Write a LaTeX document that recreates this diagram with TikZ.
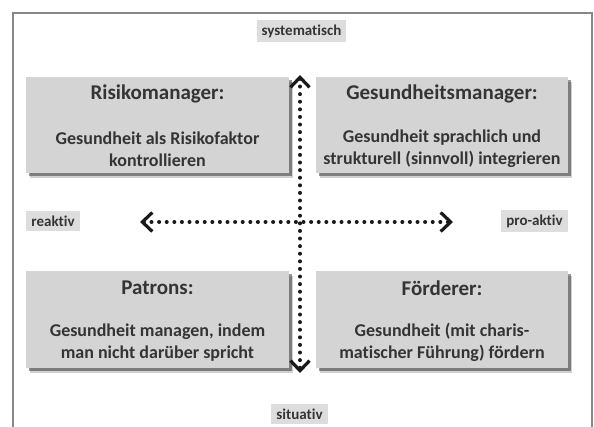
\documentclass[tikz,border=0pt]{standalone}
\usepackage{fontspec}
\setmainfont{Carlito}[Ligatures=NoCommon]
\usetikzlibrary{arrows.meta,shadows,calc}
\definecolor{boxfill}{RGB}{212,212,212}
\definecolor{labfill}{RGB}{221,221,221}
\definecolor{txt}{RGB}{52,52,52}
\definecolor{framec}{RGB}{135,135,135}
\definecolor{axc}{RGB}{25,25,25}
\begin{document}
\begin{tikzpicture}[x=1pt,y=-1pt,
  qbox/.style={rectangle, fill=boxfill, inner sep=0pt,
    drop shadow={shadow xshift=4pt, shadow yshift=-5pt, opacity=0.18, fill=black},
    drop shadow={shadow xshift=2.5pt, shadow yshift=-3pt, opacity=0.4, fill=black}},
  qtitle/.style={text=txt, font=\fontsize{21}{25}\selectfont\bfseries, inner sep=0pt},
  qbody/.style={text=txt, font=\fontsize{18}{22}\selectfont\bfseries, align=center, inner sep=0pt},
  lab/.style={fill=labfill, text=txt, font=\fontsize{15}{17}\selectfont\bfseries, inner xsep=5pt, inner ysep=4.5pt},
  axis/.style={axc, line width=4pt, dash pattern=on 0pt off 7.6pt, line cap=round,
    arrows={Straight Barb[length=10pt,width=19pt,line width=3.2pt]-Straight Barb[length=10pt,width=19pt,line width=3.2pt]}}]
\clip (0,0) rectangle (594,427);
\fill[white] (0,0) rectangle (594,427);
\draw[framec, line width=1.6pt] (13,13) rectangle (592,440);

% quadrant boxes
\node[qbox, minimum width=263pt, minimum height=96pt] (rm) at (157.5,125) {};
\node[qbox, minimum width=252pt, minimum height=96pt] (gm) at (442,125) {};
\node[qbox, minimum width=263pt, minimum height=97pt] (pa) at (157.5,319.5) {};
\node[qbox, minimum width=252pt, minimum height=97pt] (fo) at (442,319.5) {};

\node[qtitle] (rmt) at ($(rm.north)+(0,17)$) {Risikomanager:};
\node[qbody]  (rmb) at ($(rm.north)+(0,72)$) {Gesundheit als Risikofaktor\\kontrollieren};
\node[qtitle] (gmt) at ($(gm.north)+(0,17)$) {Gesundheitsmanager:};
\node[qbody]  (gmb) at ($(gm.north)+(0,72)$) {Gesundheit sprachlich und\\strukturell (sinnvoll) integrieren};
\node[qtitle] (pat) at ($(pa.north)+(0,17)$) {Patrons:};
\node[qbody]  (pab) at ($(pa.north)+(0,72)$) {Gesundheit managen, indem\\man nicht darüber spricht};
\node[qtitle] (fot) at ($(fo.north)+(0,17)$) {Förderer:};
\node[qbody]  (fob) at ($(fo.north)+(0,72)$) {Gesundheit (mit charis-\\matischer Führung) fördern};

% axis labels
\node[lab] (sys) at (301.5,31) {systematisch};
\node[lab] (rea) at (53,221) {reaktiv};
\node[lab] (pro) at (534.5,221) {pro-aktiv};
\node[lab] (sit) at (299.5,414) {situativ};

% axes
\coordinate (L) at (140,222);
\coordinate (R) at (453,222);
\coordinate (T) at (300,75);
\coordinate (B) at (300,373);
\draw[axis] (L) -- (R);
\draw[axis] (T) -- (B);
\end{tikzpicture}
\end{document}
